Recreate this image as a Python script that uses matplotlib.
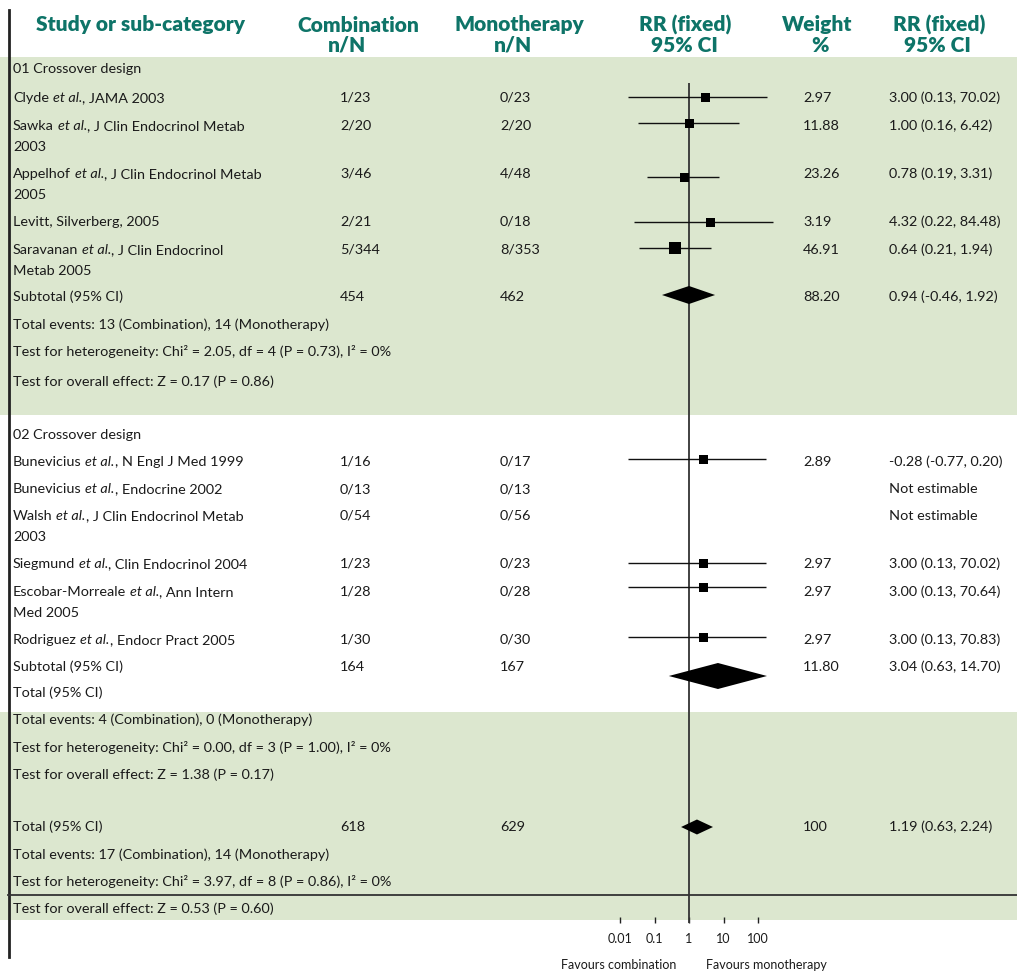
import numpy as np
import matplotlib
matplotlib.use('Agg')
import matplotlib.pyplot as plt
from matplotlib.patches import Rectangle

# ---- data -------------------------------------------------------------
g1_studies = ['Clyde et al., JAMA 2003',
              'Sawka et al., J Clin Endocrinol Metab\n2003',
              'Appelhof et al., J Clin Endocrinol Metab\n2005',
              'Levitt, Silverberg, 2005',
              'Saravanan et al., J Clin Endocrinol\nMetab 2005']
g1_comb = ['1/23', '2/20', '3/46', '2/21', '5/344']
g1_mono = ['0/23', '2/20', '4/48', '0/18', '8/353']
g1_weight = ['2.97', '11.88', '23.26', '3.19', '46.91']
g1_rr_text = ['3.00 (0.13, 70.02)', '1.00 (0.16, 6.42)', '0.78 (0.19, 3.31)',
              '4.32 (0.22, 84.48)', '0.64 (0.21, 1.94)']
# marker / whisker positions as drawn in the figure (RR scale)
g1_rr = [2.9, 1.0, 0.72, 4.06, 0.39]
g1_lo = [0.017, 0.033, 0.061, 0.025, 0.036]
g1_hi = [182, 28, 7.4, 272, 4.3]
g1_box = [9, 9, 9, 9, 12]          # box width, px

g2_studies = ['Bunevicius et al., N Engl J Med 1999',
              'Bunevicius et al., Endocrine 2002',
              'Walsh et al., J Clin Endocrinol Metab\n2003',
              'Siegmund et al., Clin Endocrinol 2004',
              'Escobar-Morreale et al., Ann Intern\nMed 2005',
              'Rodriguez et al., Endocr Pract 2005']
g2_comb = ['1/16', '0/13', '0/54', '1/23', '1/28', '1/30']
g2_mono = ['0/17', '0/13', '0/56', '0/23', '0/28', '0/30']
g2_weight = ['2.89', '', '', '2.97', '2.97', '2.97']
g2_rr_text = ['-0.28 (-0.77, 0.20)', 'Not estimable', 'Not estimable',
              '3.00 (0.13, 70.02)', '3.00 (0.13, 70.64)', '3.00 (0.13, 70.83)']
g2_rr = [2.55, np.nan, np.nan, 2.55, 2.55, 2.55]
g2_lo = [0.017, np.nan, np.nan, 0.017, 0.017, 0.017]
g2_hi = [170, np.nan, np.nan, 170, 170, 170]
g2_box = [9, 0, 0, 9, 9, 9]

# subtotal / total: label, comb N, mono N, weight, rr text, diamond (lo, mid, hi)
summary_labels = ['Subtotal (95% CI)', 'Subtotal (95% CI)', 'Total (95% CI)']
summary_comb = ['454', '164', '618']
summary_mono = ['462', '167', '629']
summary_weight = ['88.20', '11.80', '100']
summary_rr_text = ['0.94 (-0.46, 1.92)', '3.04 (0.63, 14.70)', '1.19 (0.63, 2.24)']
summary_lo = [0.165, 0.26, 0.59]
summary_mid = [1.0, 6.9, 1.7]
summary_hi = [5.7, 182, 4.96]

g1_notes = ['Total events: 13 (Combination), 14 (Monotherapy)',
            'Test for heterogeneity: Chi² = 2.05, df = 4 (P = 0.73), I² = 0%',
            'Test for overall effect: Z = 0.17 (P = 0.86)']
g2_notes = ['Total events: 4 (Combination), 0 (Monotherapy)',
            'Test for heterogeneity: Chi² = 0.00, df = 3 (P = 1.00), I² = 0%',
            'Test for overall effect: Z = 1.38 (P = 0.17)']
tot_notes = ['Total events: 17 (Combination), 14 (Monotherapy)',
             'Test for heterogeneity: Chi² = 3.97, df = 8 (P = 0.86), I² = 0%',
             'Test for overall effect: Z = 0.53 (P = 0.60)']

tick_vals = [0.01, 0.1, 1, 10, 100]
tick_labels = ['0.01', '0.1', '1', '10', '100']

# ---- layout (pixels) --------------------------------------------------
W, H = 1017, 971
TEAL = '#0e7468'
GREEN = '#dce7cf'
INK = '#1a1a1a'
FONT = 'Lato'
FS = 10.4
LINE2 = 21

g1_y = [98, 126, 174, 222, 250]
g1_my = [97, 123, 177, 222, 248]
g2_y = [462, 489, 516, 564, 592, 640]
g2_my = [459, 489, 516, 563, 587, 637]
summary_y = [297, 667, 827]
summary_dy = [295, 676, 827]
summary_h = [9, 13, 7.5]
g1_notes_y = [325, 352, 382]
g2_notes_y = [720, 748, 775]
tot_notes_y = [855, 882, 909]

X_STUDY, X_COMB, X_MONO, X_W, X_RR = 13, 340, 500, 803, 889

fig = plt.figure(figsize=(W / 100, H / 100), dpi=100)
tab = fig.add_axes([0, 0, 1, 1])
tab.set_xlim(0, W)
tab.set_ylim(H, 0)
tab.axis('off')

# backgrounds and rules
tab.add_patch(Rectangle((0, 57), W, 358, color=GREEN, lw=0))
tab.add_patch(Rectangle((0, 712), W, 208, color=GREEN, lw=0))
tab.plot([8.5, 8.5], [10, 957], color='#222222', lw=2)
tab.plot([8, W], [895, 895], color='#333333', lw=1.3)

body = dict(fontsize=FS, family=FONT, color=INK, va='center')
renderer = fig.canvas.get_renderer()


def right_edge(t):
    bb = t.get_window_extent(renderer=renderer)
    return tab.transData.inverted().transform((bb.x1, bb.y0))[0]


tmp1 = tab.text(0, 0, 'x x', **body)
tmp2 = tab.text(0, 0, 'xx', **body)
space_w = right_edge(tmp1) - right_edge(tmp2)
tmp1.remove()
tmp2.remove()


def draw_line(x, y, s):
    if 'et al.' not in s:
        tab.text(x, y, s, **body)
        return
    pre, post = s.split('et al.')
    t1 = tab.text(x, y, pre.rstrip(), **body)
    t2 = tab.text(right_edge(t1) + space_w, y, 'et al.', style='italic', **body)
    tab.text(right_edge(t2), y, post, **body)


def draw_label(x, y, label):
    for i, line in enumerate(label.split('\n')):
        draw_line(x, y + i * LINE2, line)


# headers
head = dict(fontsize=15, family=FONT, weight='heavy', color=TEAL,
            ha='center', va='center')
tab.text(140, 25, 'Study or sub-category', **head)
for cx1, cx2, l1, l2 in [(358, 347, 'Combination', 'n/N'),
                         (519, 513, 'Monotherapy', 'n/N'),
                         (685, 684, 'RR (fixed)', '95% CI'),
                         (817, 820, 'Weight', '%'),
                         (939, 937, 'RR (fixed)', '95% CI')]:
    tab.text(cx1, 25, l1, **head)
    tab.text(cx2, 45, l2, **head)

# group titles
tab.text(X_STUDY, 69, '01 Crossover design', **body)
tab.text(X_STUDY, 435, '02 Crossover design', **body)

# study rows
for studies, comb, mono, wt, rrt, ys in [
        (g1_studies, g1_comb, g1_mono, g1_weight, g1_rr_text, g1_y),
        (g2_studies, g2_comb, g2_mono, g2_weight, g2_rr_text, g2_y)]:
    for s, c, m, w, r, y in zip(studies, comb, mono, wt, rrt, ys):
        draw_label(X_STUDY, y, s)
        tab.text(X_COMB, y, c, **body)
        tab.text(X_MONO, y, m, **body)
        tab.text(X_W, y, w, **body)
        tab.text(X_RR, y, r, **body)

for lab, c, m, w, r, y in zip(summary_labels, summary_comb, summary_mono,
                              summary_weight, summary_rr_text, summary_y):
    tab.text(X_STUDY, y, lab, **body)
    tab.text(X_COMB, y, c, **body)
    tab.text(X_MONO, y, m, **body)
    tab.text(X_W, y, w, **body)
    tab.text(X_RR, y, r, **body)
tab.text(X_STUDY, 693, 'Total (95% CI)', **body)

for notes, ys in [(g1_notes, g1_notes_y), (g2_notes, g2_notes_y),
                  (tot_notes, tot_notes_y)]:
    for n, y in zip(notes, ys):
        tab.text(X_STUDY, y, n, **body)

# ---- forest axis --------------------------------------------------------
PX1, PPD = 689, 34.5        # pixel of RR=1, pixels per decade
FX0, FX1, FY1 = 600, 780, 923
fax = fig.add_axes([FX0 / W, (H - FY1) / H, (FX1 - FX0) / W, FY1 / H])
fax.patch.set_visible(False)
fax.set_xscale('log')
fax.set_xlim(10 ** ((FX0 - PX1) / PPD), 10 ** ((FX1 - PX1) / PPD))
fax.set_ylim(FY1, 0)
for sp in fax.spines.values():
    sp.set_visible(False)
fax.set_yticks([])
fax.set_xticks(tick_vals)
fax.set_xticklabels(tick_labels, family=FONT, fontsize=9, color=INK)
fax.xaxis.set_minor_locator(matplotlib.ticker.NullLocator())
fax.tick_params(axis='x', direction='in', length=4.3, width=1, pad=7,
                color='#222222')

fax.vlines(1, 83, FY1, color='#333333', lw=1.3)

for rr, lo, hi, box, ys in [(g1_rr, g1_lo, g1_hi, g1_box, g1_my),
                            (g2_rr, g2_lo, g2_hi, g2_box, g2_my)]:
    for r, a, b, bx, y in zip(rr, lo, hi, box, ys):
        if np.isnan(r):
            continue
        fax.hlines(y, a, b, color='#111111', lw=1)
        fax.scatter([r], [y], marker='s', s=(bx * 0.72) ** 2, color='black',
                    zorder=3, linewidths=0)

for lo, mid, hi, y, h in zip(summary_lo, summary_mid, summary_hi,
                             summary_dy, summary_h):
    fax.fill([lo, mid, hi, mid], [y, y - h, y, y + h], color='black', lw=0,
             zorder=3)

fav = dict(body, fontsize=9, ha='center')
tab.text(619, 965, 'Favours combination', **fav)
tab.text(766, 965, 'Favours monotherapy', **fav)

fig.savefig('out.png', dpi=100)
